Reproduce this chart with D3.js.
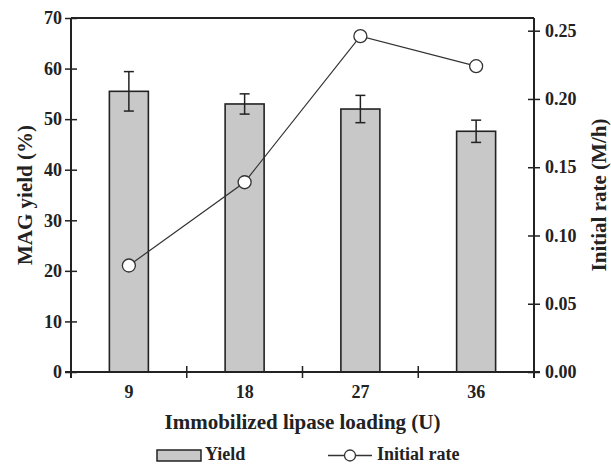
<!DOCTYPE html>
<html><head><meta charset="utf-8">
<script src="https://cdn.jsdelivr.net/npm/d3@7"></script>
<style>body{margin:0;background:#fff}</style>
</head><body><svg id="c" width="611" height="464"></svg>
<script>
const categories = ["9","18","27","36"];
const yieldValues = [55.5, 53.0, 52.0, 47.6];
const yieldErrors = [3.9, 2.0, 2.7, 2.2];
const rateValues = [0.078, 0.139, 0.246, 0.224];
const leftTicks = [0,10,20,30,40,50,60,70];
const rightTicks = [0,0.05,0.10,0.15,0.20,0.25];

const FONT = "Liberation Serif";
const svg = d3.select("#c");
const m = {l:71, r:534, t:18, b:372};
const xb = d3.scaleBand().domain(categories).range([m.l, m.r]);
const yL = d3.scaleLinear().domain([0,70]).range([m.b, m.t]);
const yR = d3.scaleLinear().domain([0,0.2593]).range([m.b, m.t]);
const stroke = "#222";
const cxOf = d => xb(d) + xb.bandwidth()/2;

// bars
svg.selectAll("rect.bar").data(categories).enter().append("rect")
  .attr("x", d => cxOf(d) - 19.5).attr("width", 39)
  .attr("y", (d,i) => yL(yieldValues[i])).attr("height", (d,i) => m.b - yL(yieldValues[i]))
  .attr("fill", "#c8c8c8").attr("stroke", stroke).attr("stroke-width", 1.6);
// error bars
categories.forEach((d,i) => {
  const cx = cxOf(d);
  const g = svg.append("g").attr("stroke", stroke).attr("stroke-width", 1.5);
  g.append("line").attr("x1",cx).attr("x2",cx).attr("y1",yL(yieldValues[i]+yieldErrors[i])).attr("y2",yL(yieldValues[i]-yieldErrors[i]));
  [1,-1].forEach(s => g.append("line").attr("x1",cx-5).attr("x2",cx+5)
    .attr("y1",yL(yieldValues[i]+s*yieldErrors[i])).attr("y2",yL(yieldValues[i]+s*yieldErrors[i])));
});

// line
const line = d3.line().x((d,i) => cxOf(categories[i])).y(d => yR(d));
svg.append("path").datum(rateValues).attr("d", line).attr("fill","none").attr("stroke","#333").attr("stroke-width",1.2);
svg.selectAll("circle.pt").data(rateValues).enter().append("circle")
  .attr("cx",(d,i)=>cxOf(categories[i])).attr("cy",d=>yR(d)).attr("r",6.5)
  .attr("fill","#fff").attr("stroke","#333").attr("stroke-width",1.3);

// top border
svg.append("line").attr("x1",m.l).attr("x2",m.r).attr("y1",m.t).attr("y2",m.t).attr("stroke",stroke).attr("stroke-width",2);

// axes
const gL = svg.append("g").attr("transform",`translate(${m.l},0)`)
  .call(d3.axisLeft(yL).tickValues(leftTicks).tickSize(6).tickPadding(3).tickSizeOuter(0));
gL.selectAll(".tick line").attr("x1",6);
const gR = svg.append("g").attr("transform",`translate(${m.r},0)`)
  .call(d3.axisRight(yR).tickValues(rightTicks).tickFormat(d3.format(".2f")).tickSize(6).tickPadding(5).tickSizeOuter(0));
gR.selectAll(".tick line").attr("x1",-6);
const gB = svg.append("g").attr("transform",`translate(0,${m.b})`)
  .call(d3.axisBottom(xb).tickSize(0).tickPadding(14).tickSizeOuter(0));
gB.selectAll(".tick text").attr("dy",null).attr("y",26);
[1,2,3].forEach(i => gB.append("line").attr("x1",m.l+i*xb.bandwidth()).attr("x2",m.l+i*xb.bandwidth()).attr("y1",-6).attr("y2",6).attr("stroke",stroke).attr("stroke-width",1.5));
[gL,gR,gB].forEach(g => {
  g.attr("font-family",FONT);
  g.select(".domain").attr("stroke",stroke).attr("stroke-width",2);
  g.selectAll(".tick line").attr("stroke",stroke).attr("stroke-width",1.5);
  g.selectAll("text").attr("font-size",18).attr("font-family",FONT).attr("font-weight","bold").attr("fill","#222");
});
gL.select(".domain").attr("d",`M0,${m.b+6}V${m.t}`);
gR.select(".domain").attr("d",`M0,${m.b+6}V${m.t}`);
gB.select(".domain").attr("d",`M${m.l-6},0H${m.r+6}`);

function txt(attrs, s, size){
  const t = svg.append("text").attr("font-family",FONT).attr("font-weight","bold").attr("fill","#222").attr("font-size",size);
  Object.entries(attrs).forEach(([k,v])=>t.attr(k,v));
  return t.text(s);
}
// titles
txt({transform:`translate(32,${(m.t+m.b)/2}) rotate(-90)`,"text-anchor":"middle"},"MAG yield (%)",21);
txt({transform:`translate(606,${(m.t+m.b)/2}) rotate(-90)`,"text-anchor":"middle"},"Initial rate (M/h)",21);
txt({x:(m.l+m.r)/2,y:429,"text-anchor":"middle"},"Immobilized lipase loading (U)",21);

// legend
svg.append("rect").attr("x",157).attr("y",450).attr("width",44).attr("height",11).attr("fill","#c8c8c8").attr("stroke",stroke).attr("stroke-width",1.5);
txt({x:205,y:460},"Yield",18);
svg.append("line").attr("x1",328).attr("x2",372).attr("y1",455.5).attr("y2",455.5).attr("stroke","#333").attr("stroke-width",1.3);
svg.append("circle").attr("cx",350).attr("cy",455.5).attr("r",5.5).attr("fill","#fff").attr("stroke","#333").attr("stroke-width",1.3);
txt({x:377,y:460},"Initial rate",18);
</script></body></html>
